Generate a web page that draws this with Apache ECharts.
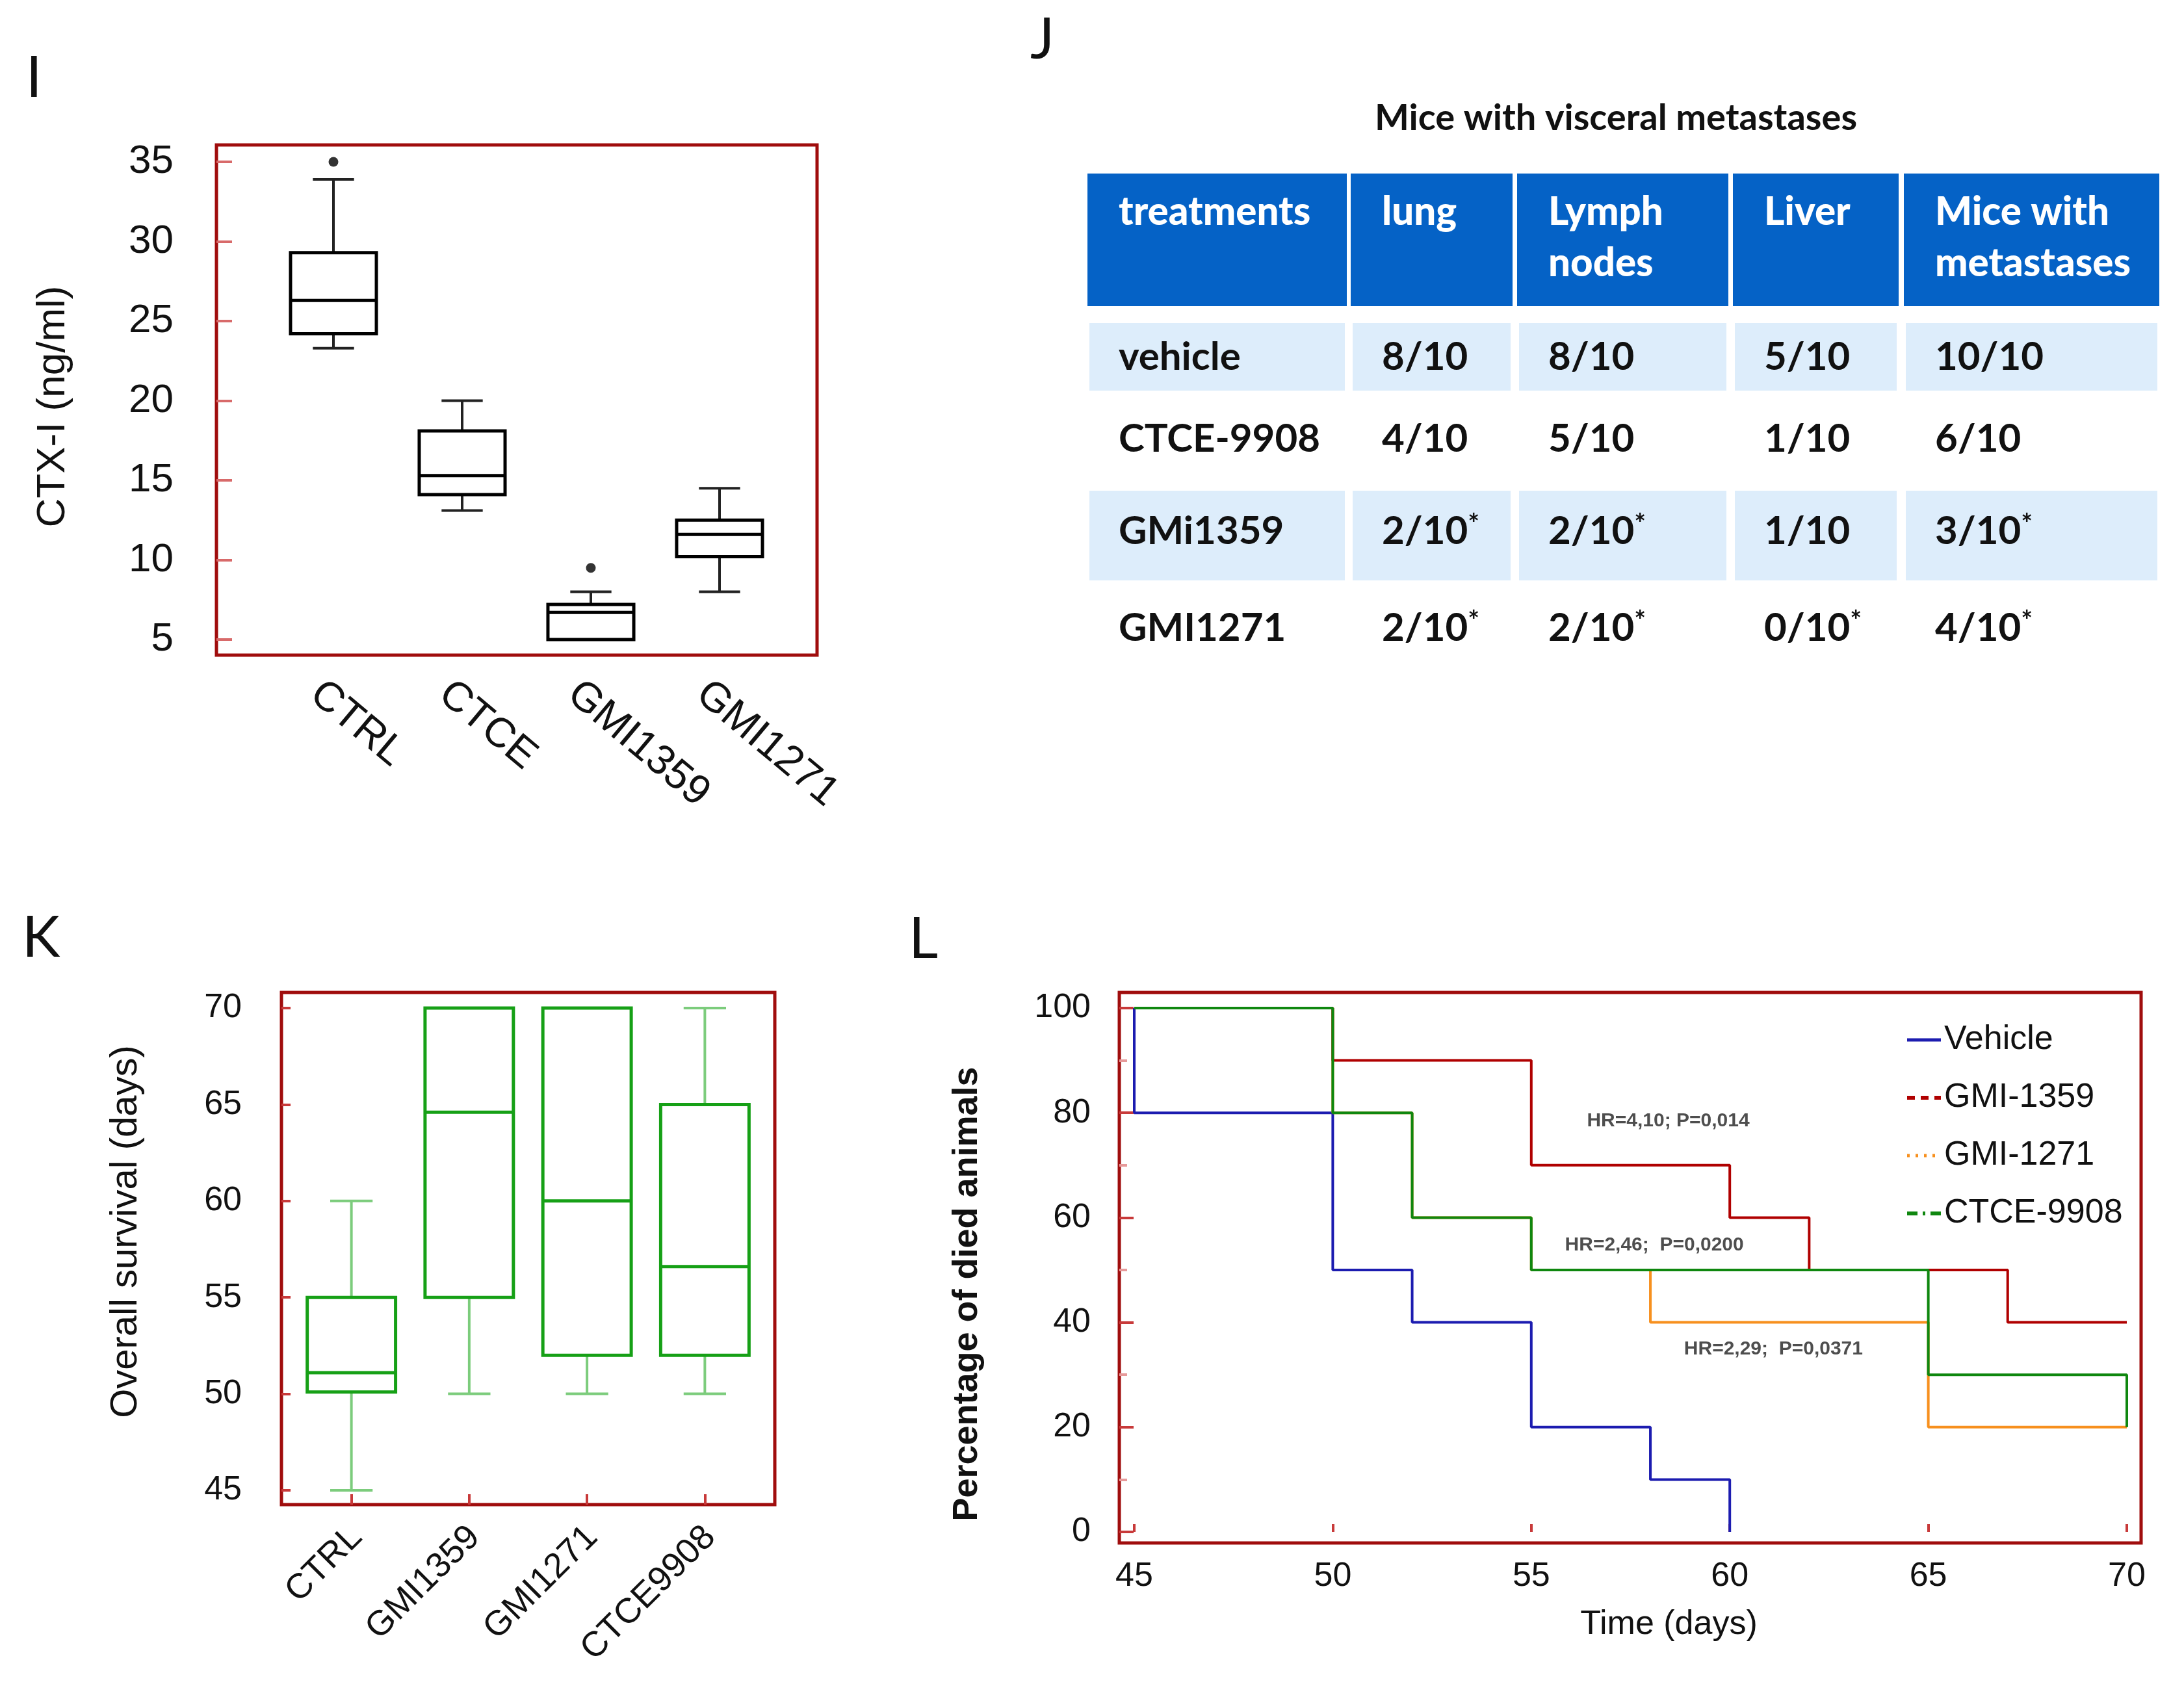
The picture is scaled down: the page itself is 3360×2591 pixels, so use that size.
<!DOCTYPE html>
<html><head><meta charset="utf-8">
<script src="https://cdn.jsdelivr.net/npm/echarts@6/dist/echarts.min.js"></script>
<style>html,body{margin:0;padding:0;background:#fff}#c{width:3360px;height:2591px}</style>
</head><body><div id="c"></div><script>
// ---------- Panel I : CTX-I boxplot ----------
const catsI = ['CTRL', 'CTCE', 'GMI1359', 'GMI1271'];
const minI = [23.3, 13.1, 5.0, 8.0];
const q1I  = [24.2, 14.1, 5.0, 10.2];
const medI = [26.3, 15.3, 6.7, 11.6];
const q3I  = [29.3, 18.1, 7.2, 12.5];
const maxI = [33.9, 20.0, 8.0, 14.5];
const outlierCatsI = ['CTRL', 'GMI1359'];
const outlierValsI = [35.0, 9.5];
const yTicksI = [5, 10, 15, 20, 25, 30, 35];

// ---------- Panel K : overall survival boxplot ----------
const catsK = ['CTRL', 'GMI1359', 'GMI1271', 'CTCE9908'];
const minK = [45, 50, 50, 50];
const q1K  = [50.1, 55, 52, 52];
const medK = [51.1, 64.6, 60, 56.6];
const q3K  = [55, 70, 70, 65];
const maxK = [60, 70, 70, 70];
const yTicksK = [45, 50, 55, 60, 65, 70];

// ---------- Panel L : Kaplan-Meier ----------
const timeVehicle = [45, 45, 50, 52, 55, 58, 60];
const survVehicle = [100, 80, 50, 40, 20, 10, 0];
const time1359 = [45, 50, 55, 60, 62, 67, 70];
const surv1359 = [100, 90, 70, 60, 50, 40, 40];
const time1271 = [45, 50, 52, 55, 58, 65, 70];
const surv1271 = [100, 80, 60, 50, 40, 20, 20];
const time9908 = [45, 50, 52, 55, 65, 70];
const surv9908 = [100, 80, 60, 50, 30, 20];
const xTicksL = [45, 50, 55, 60, 65, 70];
const yTicksL = [0, 20, 40, 60, 80, 100];
const hrTexts = ['HR=4,10; P=0,014', 'HR=2,46;  P=0,0200', 'HR=2,29;  P=0,0371'];
const hrX = [58.45, 58.1, 61.1];
const hrY = [78.5, 54.8, 34.9];

// ---------- Panel J : table ----------
const tableTitle = 'Mice with visceral metastases';
const tableHeaders = ['treatments', 'lung', 'Lymph\nnodes', 'Liver', 'Mice with\nmetastases'];
const tableTreatments = ['vehicle', 'CTCE-9908', 'GMi1359', 'GMI1271'];
const tableLung   = ['8/10', '4/10', '2/10*', '2/10*'];
const tableLymph  = ['8/10', '5/10', '2/10*', '2/10*'];
const tableLiver  = ['5/10', '1/10', '1/10', '0/10*'];
const tableMice   = ['10/10', '6/10', '3/10*', '4/10*'];

// ================= layout / style =================
const FONT = "'Liberation Sans', Arial, sans-serif";
const CAL = "Lato, 'Open Sans', sans-serif";
const FRAME = '#a00d0d';
const TICKRED = '#c83a3a';

function boxRenderer(cfg) {
  return function (params, api) {
    const x = api.value(0);
    const pMin = api.coord([x, api.value(1)]);
    const pQ1 = api.coord([x, api.value(2)]);
    const pMed = api.coord([x, api.value(3)]);
    const pQ3 = api.coord([x, api.value(4)]);
    const pMax = api.coord([x, api.value(5)]);
    const band = api.size([1, 0])[0];
    const bw = band * cfg.boxRatio, cw = band * cfg.capRatio;
    const cx = pMed[0];
    const ws = { stroke: cfg.whiskerColor, lineWidth: cfg.whiskerWidth, fill: null };
    const bs = { stroke: cfg.boxColor, lineWidth: cfg.boxWidth, fill: '#fff' };
    return {
      type: 'group',
      children: [
        { type: 'line', shape: { x1: cx, y1: pQ3[1], x2: cx, y2: pMax[1] }, style: ws },
        { type: 'line', shape: { x1: cx, y1: pQ1[1], x2: cx, y2: pMin[1] }, style: ws },
        { type: 'line', shape: { x1: cx - cw / 2, y1: pMax[1], x2: cx + cw / 2, y2: pMax[1] }, style: ws },
        { type: 'line', shape: { x1: cx - cw / 2, y1: pMin[1], x2: cx + cw / 2, y2: pMin[1] }, style: ws },
        { type: 'rect', shape: { x: cx - bw / 2, y: pQ3[1], width: bw, height: pQ1[1] - pQ3[1] }, style: bs },
        { type: 'line', shape: { x1: cx - bw / 2, y1: pMed[1], x2: cx + bw / 2, y2: pMed[1] },
          style: { stroke: cfg.boxColor, lineWidth: cfg.boxWidth } }
      ]
    };
  };
}

function hiddenAxis(grid) {
  return { gridIndex: grid, type: 'value', min: 0, max: 1, show: false };
}
function grid(l, t, w, h, frame) {
  const g = { left: l, top: t, width: w, height: h, containLabel: false, outerBoundsMode: 'none' };
  if (frame) { g.show = true; g.borderColor = FRAME; g.borderWidth = 5; g.backgroundColor = 'transparent'; }
  return g;
}

// ---------- table graphics ----------
const colX = [[1673, 2072], [2078, 2327], [2334, 2659], [2666, 2921], [2929, 3322]];
const headTop = 267, headBottom = 471;
const rowBands = [[497, 601], [601, 755], [755, 893], [893, 1040]];
const rowMid = [550, 676, 818, 967];
const rowShade = [true, false, true, false];
const PAD = 48;
const gfx = [];
[['I', 40, 121], ['J', 1585, 62], ['K', 34, 1444], ['L', 1398, 1446]].forEach(function (p) {
  gfx.push({ type: 'text', x: p[1], y: p[2], style: { text: p[0], fontSize: 88, fontFamily: CAL, fill: '#111', textVerticalAlign: 'middle' } });
});
gfx.push({ type: 'text', x: 2486, y: 182, style: { text: tableTitle, fontSize: 56, fontWeight: 'bold', fontFamily: CAL, fill: '#111', textAlign: 'center', textVerticalAlign: 'middle' } });
colX.forEach(function (c, j) {
  gfx.push({ type: 'rect', shape: { x: c[0], y: headTop, width: c[1] - c[0], height: headBottom - headTop }, style: { fill: '#0562c6' } });
  gfx.push({ type: 'text', x: c[0] + PAD, y: 287, style: { text: tableHeaders[j], fontSize: 60, fontWeight: 900, fontFamily: CAL, fill: '#fff', lineHeight: 79, textVerticalAlign: 'top' } });
});
const tableCols = [tableTreatments, tableLung, tableLymph, tableLiver, tableMice];
rowBands.forEach(function (rb, i) {
  colX.forEach(function (c, j) {
    if (rowShade[i]) {
      gfx.push({ type: 'rect', shape: { x: c[0] + 3, y: rb[0], width: c[1] - c[0] - 6, height: rb[1] - rb[0] }, style: { fill: '#ddedfb' } });
    }
    const raw = tableCols[j][i];
    const star = raw.indexOf('*') >= 0;
    const txt = star ? '{n|' + raw.replace('*', '') + '}{s|*}' : '{n|' + raw + '}';
    gfx.push({ type: 'text', x: c[0] + PAD, y: rowMid[i], z: 5, style: {
      text: txt, textVerticalAlign: 'middle',
      rich: {
        n: { fontSize: 60, fontWeight: 'bold', fontFamily: CAL, fill: '#111', lineHeight: 64 },
        s: { fontSize: 42, fontWeight: 'bold', fontFamily: CAL, fill: '#111', verticalAlign: 'top', lineHeight: 40 }
      } } });
  });
});

const chart = echarts.init(document.getElementById('c'), null, { renderer: 'canvas' });
const option = {
  backgroundColor: '#fff',
  animation: false,
  textStyle: { fontFamily: FONT },
  grid: [
    grid(333, 223, 924, 785, true),   // 0 I frame
    grid(414, 249, 792, 735, false),  // 1 I data
    grid(433, 1527, 759, 788, true),  // 2 K frame
    grid(450, 1551, 725, 742, false), // 3 K data
    grid(1722, 1527, 1572, 847, true),// 4 L frame
    grid(1745, 1551, 1527, 806, false),// 5 L data
    grid(386, 249, 792, 735, false),  // 6 I category labels
    grid(458, 1551, 725, 742, false)  // 7 K category labels
  ],
  xAxis: [
    hiddenAxis(0),
    { gridIndex: 1, type: 'category', data: catsI, offset: 24,
      axisLine: { show: false }, axisTick: { show: false }, splitLine: { show: false }, axisLabel: { show: false } },
    hiddenAxis(2),
    { gridIndex: 3, type: 'category', data: catsK, offset: 22,
      axisLine: { show: false }, splitLine: { show: false }, axisLabel: { show: false },
      axisTick: { show: true, inside: true, alignWithLabel: true, length: 16, lineStyle: { color: TICKRED, width: 4 } } },
    hiddenAxis(4),
    { gridIndex: 5, type: 'value', min: xTicksL[0], max: xTicksL[xTicksL.length - 1], interval: xTicksL[1] - xTicksL[0], offset: 17,
      axisLine: { show: false }, splitLine: { show: false },
      axisTick: { show: true, inside: true, length: 12, lineStyle: { color: TICKRED, width: 4 } },
      axisLabel: { fontSize: 52, color: '#111', margin: 26, fontFamily: FONT },
      name: 'Time (days)', nameLocation: 'middle', nameGap: 100,
      nameTextStyle: { fontSize: 52, color: '#111', fontFamily: FONT, padding: [0, 0, 0, 118] } },
    { gridIndex: 6, type: 'category', data: catsI, offset: 24,
      axisLine: { show: false }, axisTick: { show: false }, splitLine: { show: false },
      axisLabel: { rotate: -40, fontSize: 64, color: '#111', margin: 52, fontFamily: FONT } },
    { gridIndex: 7, type: 'category', data: catsK, offset: 22,
      axisLine: { show: false }, axisTick: { show: false }, splitLine: { show: false },
      axisLabel: { rotate: 45, fontSize: 54, color: '#111', margin: 42, fontFamily: FONT } }
  ],
  yAxis: [
    hiddenAxis(0),
    { gridIndex: 1, type: 'value', min: yTicksI[0], max: yTicksI[yTicksI.length - 1], interval: yTicksI[1] - yTicksI[0], offset: 81,
      axisLine: { show: false }, splitLine: { show: false },
      axisTick: { show: true, inside: true, length: 24, lineStyle: { color: '#d86a6a', width: 4 } },
      axisLabel: { fontSize: 62, color: '#111', margin: 66, fontFamily: FONT },
      name: 'CTX-I (ng/ml)', nameLocation: 'middle', nameRotate: 90, nameGap: 220,
      nameTextStyle: { fontSize: 62, color: '#111', fontFamily: FONT, padding: [0, 18, 0, 0] } },
    hiddenAxis(2),
    { gridIndex: 3, type: 'value', min: yTicksK[0], max: yTicksK[yTicksK.length - 1], interval: yTicksK[1] - yTicksK[0], offset: 17,
      axisLine: { show: false }, splitLine: { show: false },
      axisTick: { show: true, inside: true, length: 14, lineStyle: { color: TICKRED, width: 4 } },
      axisLabel: { fontSize: 52, color: '#111', margin: 61, fontFamily: FONT },
      name: 'Overall survival (days)', nameLocation: 'middle', nameRotate: 90, nameGap: 210,
      nameTextStyle: { fontSize: 58, color: '#111', fontFamily: FONT, padding: [0, 0, 0, 54] } },
    hiddenAxis(4),
    { gridIndex: 5, type: 'value', min: yTicksL[0], max: yTicksL[yTicksL.length - 1], interval: yTicksL[1] - yTicksL[0], offset: 23,
      axisLine: { show: false }, splitLine: { show: false },
      axisTick: { show: true, inside: true, length: 22, lineStyle: { color: TICKRED, width: 4 } },
      minorTick: { show: true, splitNumber: 2, length: 12, lineStyle: { color: '#e69a9a', width: 4 } },
      axisLabel: { fontSize: 52, color: '#111', margin: 44, fontFamily: FONT },
      name: 'Percentage of died animals', nameLocation: 'middle', nameRotate: 90, nameGap: 207,
      nameTextStyle: { fontSize: 54, fontWeight: 'bold', color: '#111', fontFamily: FONT, padding: [0, 74, 0, 0] } },
    hiddenAxis(6),
    hiddenAxis(7)
  ],
  legend: {
    orient: 'vertical', left: 2926, top: 1567, itemWidth: 52, itemHeight: 14, itemGap: 33,
    textStyle: { fontSize: 52, color: '#111', fontFamily: FONT, lineHeight: 56 },
    itemStyle: { opacity: 0 },
    data: [
      { name: 'Vehicle', itemStyle: { opacity: 0 }, lineStyle: { type: 'solid', width: 5 } },
      { name: 'GMI-1359', itemStyle: { opacity: 0 }, lineStyle: { type: [12, 9], width: 6 } },
      { name: 'GMI-1271', itemStyle: { opacity: 0 }, lineStyle: { type: [4, 9], width: 5 } },
      { name: 'CTCE-9908', itemStyle: { opacity: 0 }, lineStyle: { type: [16, 8, 4, 8], width: 6 } }
    ]
  },
  graphic: { elements: gfx },
  series: [
    { type: 'custom', xAxisIndex: 1, yAxisIndex: 1, encode: { x: 0, y: [1, 2, 3, 4, 5] },
      renderItem: boxRenderer({ boxRatio: 0.667, capRatio: 0.32, boxColor: '#000', whiskerColor: '#222', boxWidth: 5, whiskerWidth: 4 }),
      data: catsI.map(function (c, i) { return [i, minI[i], q1I[i], medI[i], q3I[i], maxI[i]]; }) },
    { type: 'scatter', xAxisIndex: 1, yAxisIndex: 1, symbolSize: 15, itemStyle: { color: '#000' },
      data: outlierCatsI.map(function (c, i) { return [catsI.indexOf(c), outlierValsI[i]]; }) },
    { type: 'custom', xAxisIndex: 3, yAxisIndex: 3, encode: { x: 0, y: [1, 2, 3, 4, 5] },
      renderItem: boxRenderer({ boxRatio: 0.75, capRatio: 0.36, boxColor: '#16a016', whiskerColor: '#7ccc7c', boxWidth: 5, whiskerWidth: 4 }),
      data: catsK.map(function (c, i) { return [i, minK[i], q1K[i], medK[i], q3K[i], maxK[i]]; }) },
    { name: 'Vehicle', type: 'line', step: 'end', symbol: 'none', xAxisIndex: 5, yAxisIndex: 5,
      color: '#1c1cb0', lineStyle: { width: 4, color: '#1c1cb0' },
      data: timeVehicle.map(function (t, i) { return [t, survVehicle[i]]; }) },
    { name: 'GMI-1271', type: 'line', step: 'end', symbol: 'none', xAxisIndex: 5, yAxisIndex: 5,
      color: '#f7901e', lineStyle: { width: 4, color: '#f7901e' },
      data: time1271.map(function (t, i) { return [t, surv1271[i]]; }) },
    { name: 'GMI-1359', type: 'line', step: 'end', symbol: 'none', xAxisIndex: 5, yAxisIndex: 5,
      color: '#b00000', lineStyle: { width: 4, color: '#b00000' },
      data: time1359.map(function (t, i) { return [t, surv1359[i]]; }) },
    { name: 'CTCE-9908', type: 'line', step: 'end', symbol: 'none', xAxisIndex: 5, yAxisIndex: 5,
      color: '#0f870f', lineStyle: { width: 4, color: '#0f870f' },
      data: time9908.map(function (t, i) { return [t, surv9908[i]]; }) },
    { type: 'scatter', xAxisIndex: 5, yAxisIndex: 5, symbolSize: 0, silent: true,
      label: { show: true, position: 'inside', formatter: '{b}', fontSize: 30, fontWeight: 'bold', color: '#222', fontFamily: FONT },
      data: hrTexts.map(function (t, i) { return { name: t, value: [hrX[i], hrY[i]] }; }) }
  ]
};
chart.setOption(option);
</script></body></html>
